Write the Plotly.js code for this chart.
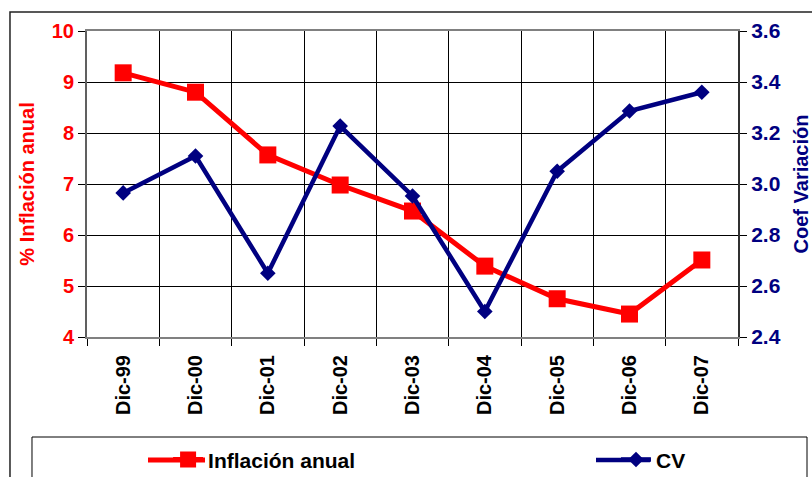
<!DOCTYPE html>
<html><head><meta charset="utf-8">
<script src="https://cdn.plot.ly/plotly-3.0.1.min.js"></script>
<style>html,body{margin:0;padding:0;background:#fff;}#chart{width:812px;height:477px;}</style>
</head><body><div id="chart"></div>
<script>
const categories = ["Dic-99","Dic-00","Dic-01","Dic-02","Dic-03","Dic-04","Dic-05","Dic-06","Dic-07"];
const inflacion = [9.18, 8.80, 7.57, 6.98, 6.47, 5.39, 4.75, 4.45, 5.51];
const cv = [2.965, 3.11, 2.65, 3.227, 2.953, 2.50, 3.05, 3.286, 3.36];
const leftTicks = [4,5,6,7,8,9,10];
const rightTicks = [2.4,2.6,2.8,3.0,3.2,3.4,3.6];
const rightTickText = ["2.4","2.6","2.8","3.0","3.2","3.4","3.6"];

const F = "Liberation Sans, Arial, sans-serif";
const traces = [
  {x: categories, y: inflacion, name: "Inflación anual", type: "scatter", mode: "lines+markers", legend: "legend",
   line: {color: "#FF0000", width: 5}, marker: {symbol: "square", size: 17, color: "#FF0000"}},
  {x: categories, y: cv, name: "CV", type: "scatter", mode: "lines+markers", yaxis: "y2", legend: "legend2",
   line: {color: "#000080", width: 4.5}, marker: {symbol: "diamond", size: 12, color: "#000080"}}
];
const legFont = {family: F, size: 21, color: "#000", weight: "bold"};
const legY = -0.402;
const layout = {
  width: 812, height: 477,
  margin: {l: 87, r: 74, t: 31, b: 140, autoexpand: false},
  paper_bgcolor: "#fff", plot_bgcolor: "#fff",
  font: {family: F, size: 20, color: "#000"},
  showlegend: true,
  legend: {orientation: "h", xref: "container", yref: "container", x: 0.207, xanchor: "left", y: 0.079, yanchor: "top",
    font: legFont, bgcolor: "rgba(0,0,0,0)", borderwidth: 0},
  legend2: {orientation: "h", xref: "container", yref: "container", x: 0.7586, xanchor: "left", y: 0.079, yanchor: "top",
    font: legFont, bgcolor: "rgba(0,0,0,0)", borderwidth: 0},
  xaxis: {type: "category", tickson: "boundaries", showgrid: true, gridcolor: "#000", gridwidth: 1, automargin: false,
    ticks: "outside", ticklen: 7, tickcolor: "#000", tickangle: -90, ticklabelstandoff: 8,
    tickfont: {family: F, size: 20, color: "#000", weight: "bold"},
    showline: true, linecolor: "#808080", linewidth: 2, mirror: true, zeroline: false,
    range: [-0.5, 8.5]},
  yaxis: {range: [4, 10], tickvals: leftTicks, showgrid: true, gridcolor: "#000", gridwidth: 1, automargin: false,
    ticks: "outside", ticklen: 7, tickcolor: "#000", zeroline: false,
    showline: true, linecolor: "#606060", linewidth: 2,
    tickfont: {family: F, size: 20, color: "#FF0000", weight: "bold"},
    title: {text: "% Inflación anual", font: {family: F, size: 20, color: "#FF0000", weight: "bold"}, standoff: 12}},
  yaxis2: {range: [2.4, 3.6], tickvals: rightTicks, ticktext: rightTickText, overlaying: "y", side: "right", automargin: false,
    showgrid: false, ticks: "outside", ticklen: 7, tickcolor: "#000", zeroline: false,
    showline: true, linecolor: "#303030", linewidth: 2,
    tickfont: {family: F, size: 21, color: "#000080", weight: "bold"},
    title: {text: "Coef Variación", font: {family: F, size: 20, color: "#000080", weight: "bold"}, standoff: 14}},
  shapes: [
    {type: "rect", xref: "paper", yref: "paper", x0: -0.1183, x1: 1.12, y0: 1.062, y1: -0.47,
     line: {color: "#222", width: 1.5}, fillcolor: "rgba(0,0,0,0)", layer: "below"},
    {type: "rect", xref: "paper", yref: "paper", x0: -0.0845, x1: 1.106, y0: -0.3268, y1: -0.47,
     line: {color: "#000", width: 1}, fillcolor: "rgba(0,0,0,0)"},
    {type: "line", xref: "paper", yref: "paper", x0: (148-87)/651, x1: (205-87)/651, y0: legY, y1: legY,
     line: {color: "#FF0000", width: 5}},
    {type: "line", xref: "paper", yref: "paper", x0: (596-87)/651, x1: (650-87)/651, y0: legY, y1: legY,
     line: {color: "#000080", width: 4.5}}
  ]
};
Plotly.newPlot("chart", traces, layout, {displayModeBar: false, staticPlot: true});
</script></body></html>
